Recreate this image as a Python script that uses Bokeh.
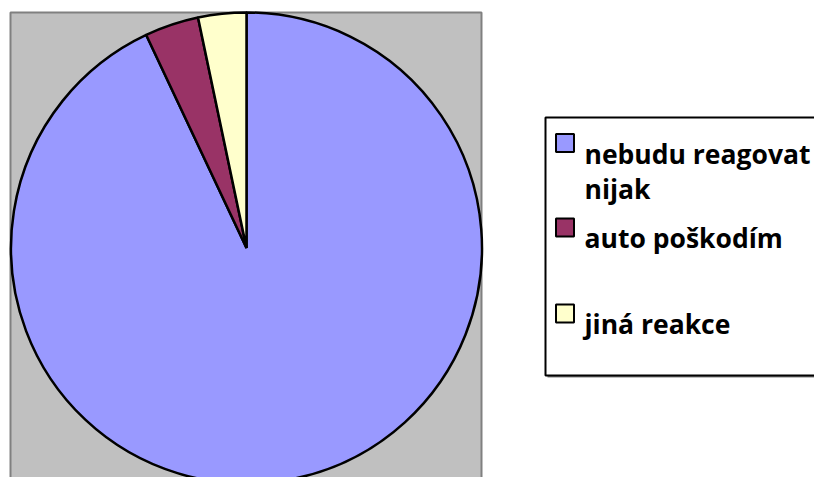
import math
import textwrap
from bokeh.plotting import figure
from bokeh.models import Range1d
from bokeh.core.properties import value
from bokeh.embed import file_html
from bokeh.resources import INLINE

# ---- data ----
categories = ["nebudu reagovat nijak", "auto poškodím", "jiná reakce"]
shares = [93.0, 3.7, 3.3]
colors = ["#9999FF", "#993366", "#FFFFCC"]

# ---- layout (page pixel coordinates; data y = -page y) ----
W, H = 814, 477
p = figure(width=W, height=H, output_backend="svg", toolbar_location=None,
           x_range=Range1d(0, W), y_range=Range1d(-H, 0),
           min_border=0, min_border_left=0, min_border_right=0,
           min_border_top=0, min_border_bottom=0)
p.axis.visible = False
p.grid.visible = False
p.outline_line_color = None
p.background_fill_color = "white"
p.border_fill_color = "white"

# plot area
p.quad(left=10, right=481, top=-12, bottom=-495, fill_color="#C0C0C0",
       line_color="#808080", line_width=2)

# pie
cx, cy, r = 246, 247.5, 235.5
total = sum(shares)
cum = 0.0
starts, ends = [], []
for s in shares:
    starts.append(math.pi / 2 - 2 * math.pi * cum / total)
    cum += s
    ends.append(math.pi / 2 - 2 * math.pi * cum / total)
p.wedge(x=[cx] * len(shares), y=[-cy] * len(shares), radius=r,
        start_angle=starts, end_angle=ends, direction="clock",
        fill_color=colors, line_color="black", line_width=2.5)

# legend box (shadow + box)
p.quad(left=547, right=830, top=-119, bottom=-377, fill_color="#808080",
       line_color=None)
p.quad(left=545, right=830, top=-117, bottom=-375, fill_color="white",
       line_color="black", line_width=2)

marker_cy = [142.5, 227, 313]
first_baseline = [153, 237, 323]
line_h = 35
msize = 18
for cat, col, my, bl in zip(categories, colors, marker_cy, first_baseline):
    p.rect(x=[564.5], y=[-my], width=msize, height=msize, fill_color=col,
           line_color="black", line_width=2)
    lines = textwrap.wrap(cat, 15)
    p.text(x=[584] * len(lines), y=[-(bl + i * line_h) for i in range(len(lines))],
           text=lines, text_font=value("Open Sans"), text_font_style="bold",
           text_font_size="26.5px", text_baseline="alphabetic", text_align="left",
           text_color="black")

open("out.html", "w").write(file_html(p, INLINE))
